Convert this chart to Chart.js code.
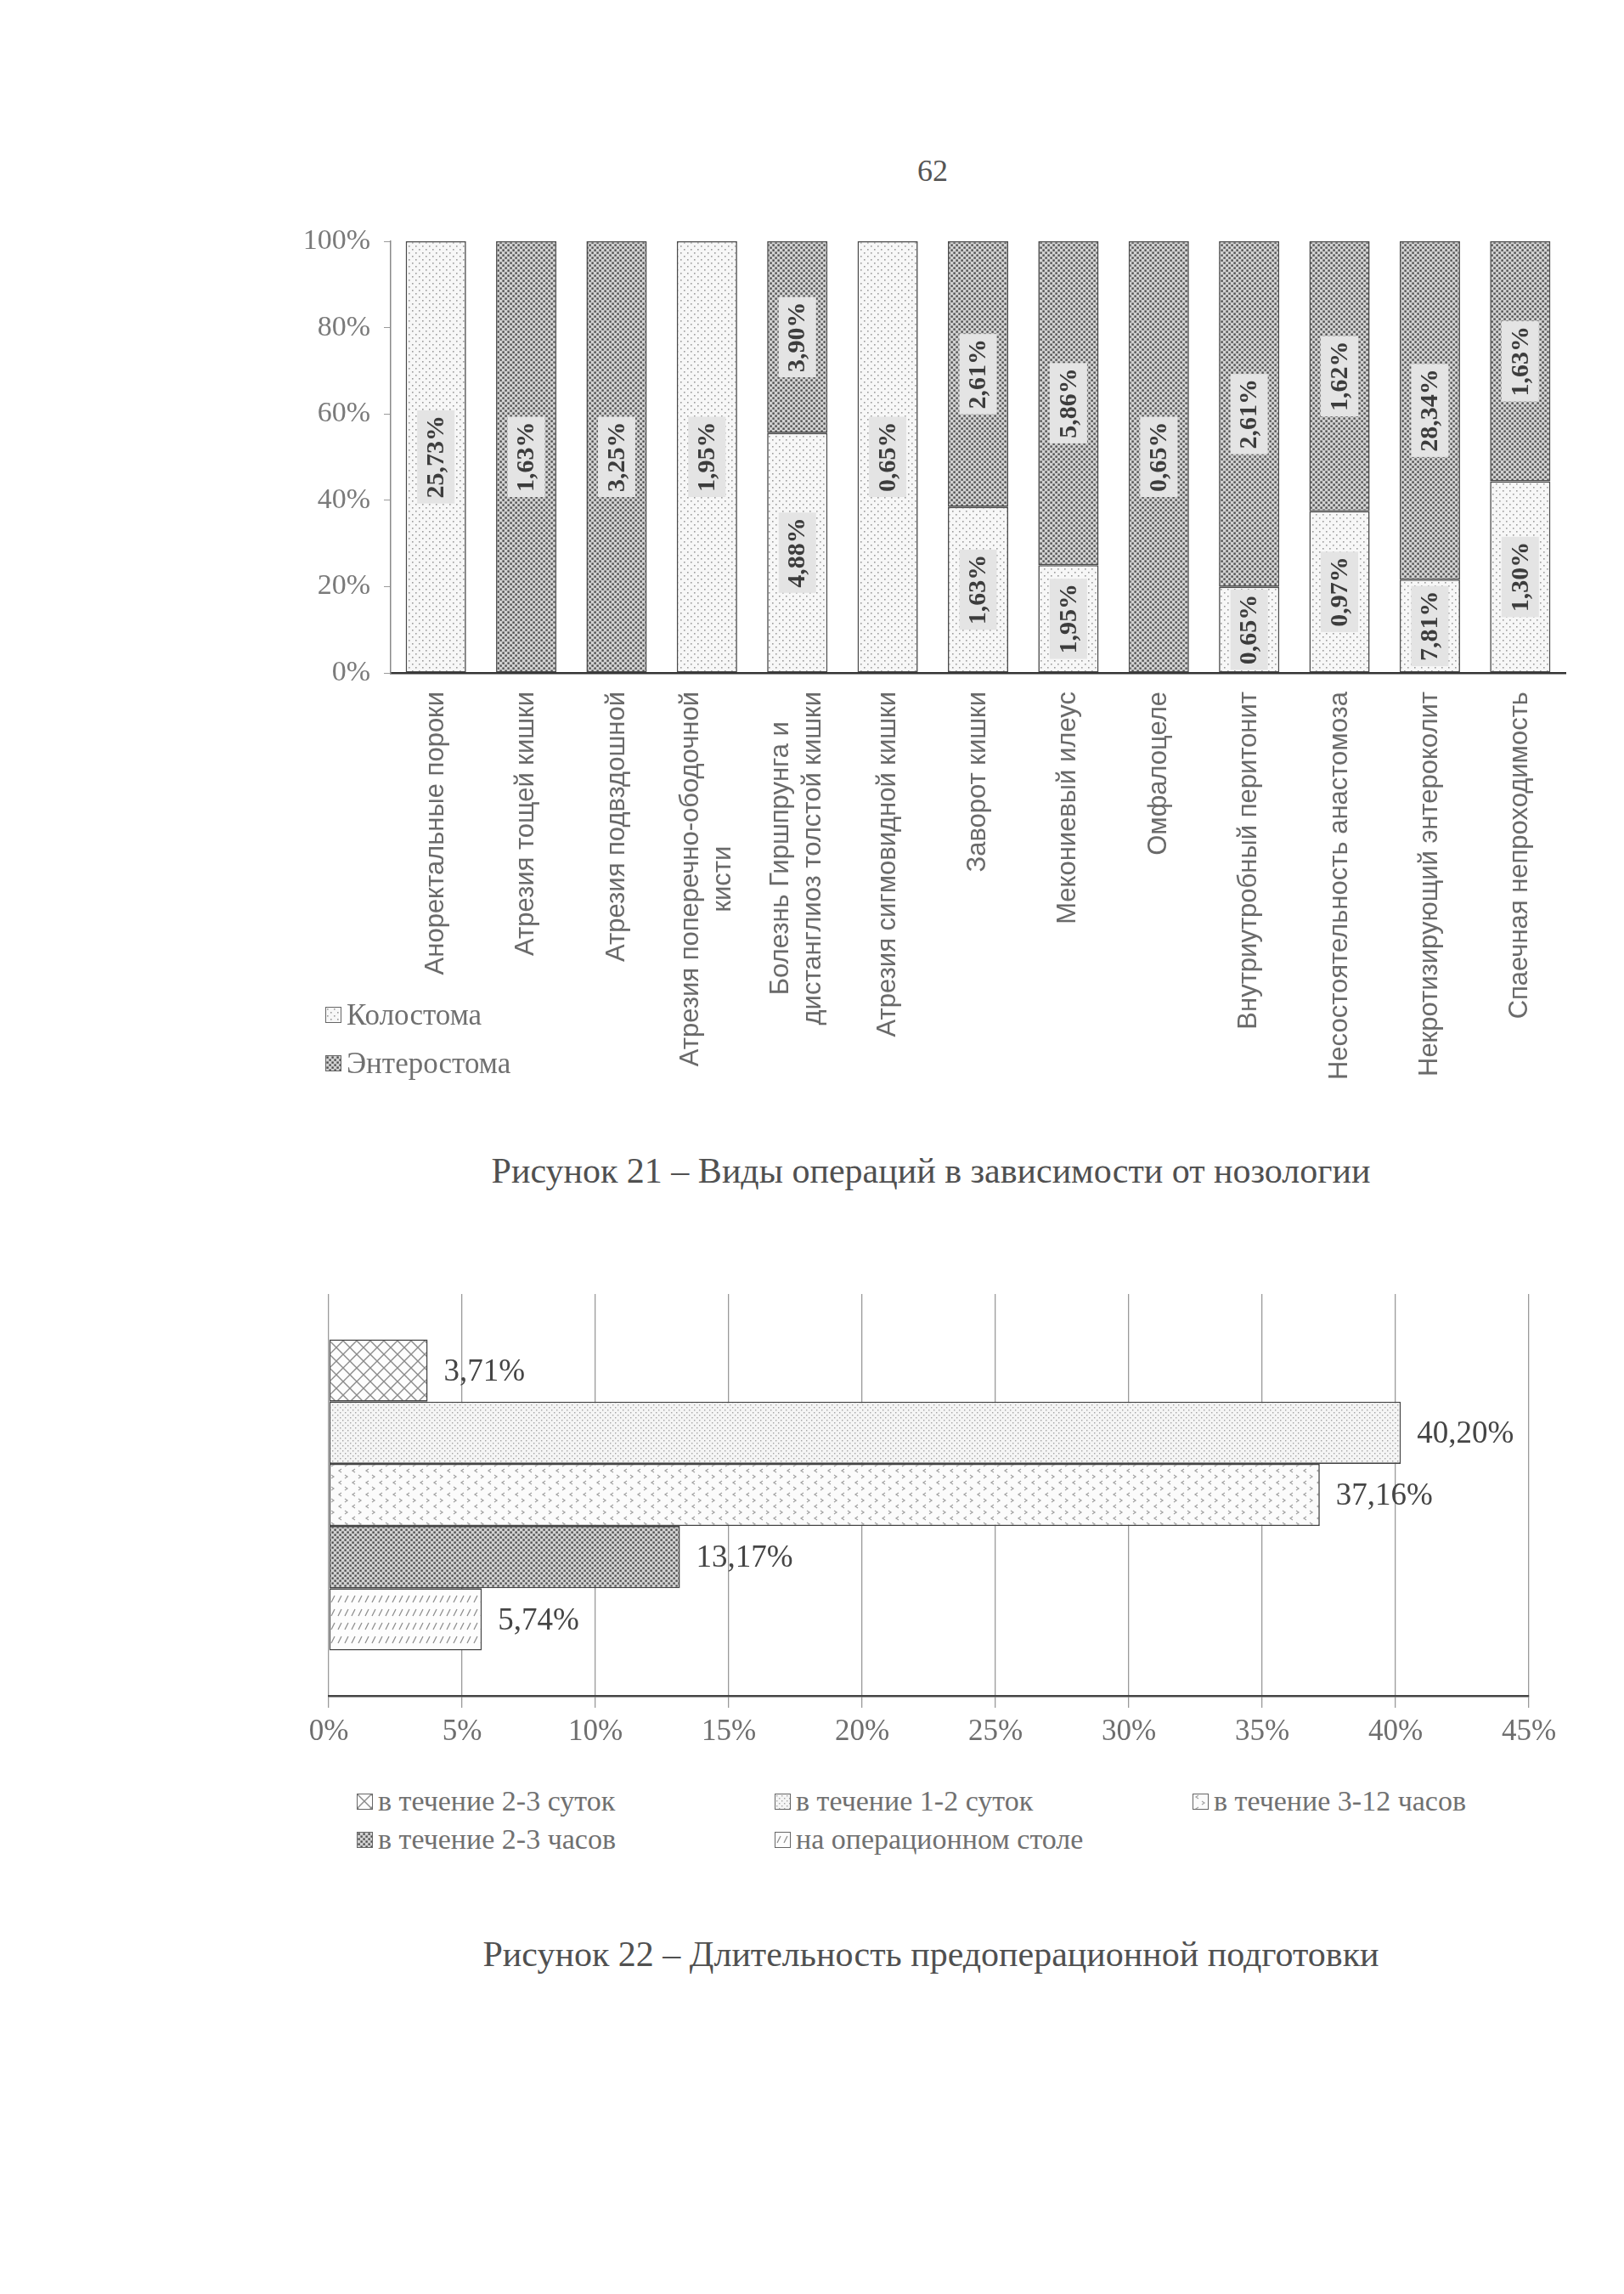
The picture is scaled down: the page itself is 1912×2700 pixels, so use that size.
<!DOCTYPE html>
<html>
<head>
<meta charset="utf-8">
<script src="https://cdn.jsdelivr.net/npm/chart.js@4.4.0/dist/chart.umd.min.js"></script>
<style>
body{margin:0;background:#fff;}
#page{position:relative;width:1912px;height:2700px;background:#fff;font-family:"Liberation Serif","Times New Roman",serif;color:#555;overflow:hidden;}
.abs{position:absolute;}
canvas{position:absolute;}
.caption{position:absolute;left:396px;width:1400px;text-align:center;font-size:42px;line-height:50px;color:#505050;}
.leg{position:absolute;display:flex;align-items:center;white-space:nowrap;color:#707070;}
.leg i{display:inline-block;width:17px;height:17px;border:1.5px solid #666;margin-right:6px;background-size:auto;}
</style>
</head>
<body>
<div id="page">
  <div class="abs" style="left:1068px;top:180px;width:60px;text-align:center;font-size:36px;line-height:42px;color:#555;">62</div>
  <canvas id="stomaChart" width="1580" height="1080" style="left:300px;top:260px;width:1580px;height:1080px;"></canvas>
  <div id="stomaLegend"></div>
  <div class="caption" style="top:1353px;">Рисунок 21 – Виды операций в зависимости от нозологии</div>
  <canvas id="prepChart" width="1560" height="600" style="left:300px;top:1490px;width:1560px;height:600px;"></canvas>
  <div id="prepLegend"></div>
  <div class="caption" style="top:2275px;">Рисунок 22 – Длительность предоперационной подготовки</div>
</div>
<script>
// ======================= DATA: FIGURE 21 =======================
const nosologies=[
  'Аноректальные пороки',
  'Атрезия тощей кишки',
  'Атрезия подвздошной',
  ['Атрезия поперечно-ободочной','кисти'],
  ['Болезнь Гиршпрунга и','дистанглиоз толстой кишки'],
  'Атрезия сигмовидной кишки',
  'Заворот кишки',
  'Мекониевый илеус',
  'Омфалоцеле',
  'Внутриутробный перитонит',
  'Несостоятельность анастомоза',
  'Некротизирующий энтероколит',
  'Спаечная непроходимость'
];
const colostomy=[25.73,0,0,1.95,4.88,0.65,1.63,1.95,0,0.65,0.97,7.81,1.30];
const enterostomy=[0,1.63,3.25,0,3.90,0,2.61,5.86,0.65,2.61,1.62,28.34,1.63];
const stomaNames=['Колостома','Энтеростома'];

// ======================= DATA: FIGURE 22 =======================
const prepNames=['в течение 2-3 суток','в течение 1-2 суток','в течение 3-12 часов','в течение 2-3 часов','на операционном столе'];
const prepValues=[3.71,40.20,37.16,13.17,5.74];

// ======================= PATTERNS =======================
function tile(w,h,draw){
  const c=document.createElement('canvas');c.width=w;c.height=h;
  const g=c.getContext('2d');draw(g);return c;
}
const tiles={
  lightDots:tile(8,8,g=>{g.fillStyle='#f7f7f7';g.fillRect(0,0,8,8);g.fillStyle='#9c9c9c';g.fillRect(1,1,1.6,1.6);g.fillRect(5,5,1.6,1.6);}),
  fineDots:tile(6,6,g=>{g.fillStyle='#f5f5f5';g.fillRect(0,0,6,6);g.fillStyle='#a4a4a4';g.fillRect(1,1,1.4,1.4);g.fillRect(4,4,1.4,1.4);}),
  darkDots:tile(6,6,g=>{g.fillStyle='#d2d2d2';g.fillRect(0,0,6,6);g.fillStyle='#4e4e4e';g.fillRect(0.4,0.4,2.4,2.4);g.fillRect(3.4,3.4,2.4,2.4);}),
  cross:tile(16,16,g=>{g.fillStyle='#fdfdfd';g.fillRect(0,0,16,16);g.strokeStyle='#8a8a8a';g.lineWidth=1.4;g.beginPath();g.moveTo(0,0);g.lineTo(16,16);g.moveTo(16,0);g.lineTo(0,16);g.stroke();}),
  chevrons:tile(16,14,g=>{g.fillStyle='#fbfbfb';g.fillRect(0,0,16,14);g.strokeStyle='#a0a0a0';g.lineWidth=1.2;g.beginPath();g.moveTo(6,1);g.lineTo(3,3);g.lineTo(6,5);g.moveTo(10,8);g.lineTo(13,10);g.lineTo(10,12);g.stroke();}),
  stripes:tile(8,16,g=>{g.fillStyle='#fdfdfd';g.fillRect(0,0,8,16);g.strokeStyle='#8c8c8c';g.lineWidth=1.3;g.beginPath();g.moveTo(2,12);g.lineTo(6,4);g.stroke();})
};
function pat(name){return document.createElement('canvas').getContext('2d').createPattern(tiles[name],'repeat');}

const stomaTiles=['lightDots','darkDots'];
const prepTiles=['cross','fineDots','chevrons','darkDots','stripes'];

const fmt=v=>v.toFixed(2).replace('.',',')+'%';

Chart.defaults.font.family='"Liberation Serif","Times New Roman",serif';
Chart.defaults.devicePixelRatio=1;

// ======================= LEGENDS (HTML) =======================
function buildLegend(hostId,names,tileNames,pos,fontSize){
  const host=document.getElementById(hostId);
  names.forEach((n,i)=>{
    const d=document.createElement('div');
    d.className='leg';
    const p=pos(i);
    d.style.left=p[0]+'px';d.style.top=p[1]+'px';d.style.fontSize=fontSize+'px';d.style.lineHeight=(fontSize+6)+'px';
    const ic=document.createElement('i');
    ic.style.backgroundImage='url('+tiles[tileNames[i]].toDataURL()+')';
    d.appendChild(ic);
    d.appendChild(document.createTextNode(n));
    host.appendChild(d);
  });
}
buildLegend('stomaLegend',stomaNames,stomaTiles,i=>[383,1174+i*57],35);
buildLegend('prepLegend',prepNames,prepTiles,i=>[420+(i%3)*492,2100+Math.floor(i/3)*45],34);

// ======================= FIGURE 21 =======================
function share(arr,i){const t=colostomy[i]+enterostomy[i];return arr[i]?arr[i]/t*100:null;}

const stomaText={
  id:'stomaText',
  afterDatasetsDraw(chart){
    const ctx=chart.ctx;
    ctx.save();
    ctx.font='bold 30px "Liberation Serif"';
    ctx.textAlign='center';ctx.textBaseline='middle';
    chart.data.datasets.forEach((ds,di)=>{
      chart.getDatasetMeta(di).data.forEach((el,i)=>{
        const v=ds.raw[i];
        if(!v) return;
        const cy=(el.y+el.base)/2;
        const txt=fmt(v);
        const w=ctx.measureText(txt).width;
        ctx.save();
        ctx.translate(el.x,cy);ctx.rotate(-Math.PI/2);
        ctx.fillStyle='#e4e4e4';
        ctx.fillRect(-w/2-6,-22,w+12,44);
        ctx.fillStyle='#3c3c3c';
        ctx.fillText(txt,0,1);
        ctx.restore();
      });
    });
    ctx.restore();
  },
  afterDraw(chart){
    const ctx=chart.ctx, xs=chart.scales.x;
    ctx.save();
    ctx.font='31px "Liberation Sans"';
    ctx.fillStyle='#6a6a6a';
    ctx.textAlign='center';ctx.textBaseline='middle';
    const lh=38;
    chart.data.labels.forEach((lab,i)=>{
      const lines=Array.isArray(lab)?lab:[lab];
      const maxW=Math.max(...lines.map(l=>ctx.measureText(l).width));
      ctx.save();
      ctx.translate(xs.getPixelForTick(i),xs.top+22);
      ctx.rotate(-Math.PI/2);
      lines.forEach((l,j)=>ctx.fillText(l,-maxW/2,(j-(lines.length-1)/2)*lh));
      ctx.restore();
    });
    ctx.restore();
  }
};

new Chart(document.getElementById('stomaChart'),{
  type:'bar',
  data:{
    labels:nosologies,
    datasets:[
      {label:stomaNames[0],raw:colostomy,data:colostomy.map((_,i)=>share(colostomy,i)),backgroundColor:pat(stomaTiles[0])},
      {label:stomaNames[1],raw:enterostomy,data:enterostomy.map((_,i)=>share(enterostomy,i)),backgroundColor:pat(stomaTiles[1])}
    ].map(d=>Object.assign(d,{borderColor:'#4a4a4a',borderWidth:1.6,borderSkipped:false,barPercentage:0.668,categoryPercentage:1}))
  },
  options:{
    responsive:false,animation:false,
    layout:{padding:{top:24,right:37,bottom:0,left:0}},
    plugins:{legend:{display:false},tooltip:{enabled:false}},
    scales:{
      x:{stacked:true,grid:{display:false},ticks:{display:false},
         border:{color:'#333',width:2.5},
         afterFit:s=>{s.height=548;s.paddingLeft=0;s.paddingRight=0;}},
      y:{stacked:true,min:0,max:100,
         ticks:{stepSize:20,callback:v=>v+'%',color:'#7a7a7a',font:{size:34},padding:16},
         grid:{drawOnChartArea:false,drawTicks:true,tickLength:8,color:'#9a9a9a'},
         border:{color:'#8a8a8a',width:1.5},
         afterFit:s=>{s.width=160;s.paddingTop=0;s.paddingBottom=0;}}
    }
  },
  plugins:[stomaText]
});

// ======================= FIGURE 22 =======================
const prepText={
  id:'prepText',
  afterDatasetsDraw(chart){
    const ctx=chart.ctx;
    ctx.save();
    ctx.font='37px "Liberation Serif"';
    ctx.fillStyle='#454545';
    ctx.textAlign='left';ctx.textBaseline='middle';
    chart.data.datasets.forEach((ds,di)=>{
      const el=chart.getDatasetMeta(di).data[0];
      ctx.fillText(fmt(ds.data[0]),el.x+19,el.y+2);
    });
    ctx.restore();
  }
};

new Chart(document.getElementById('prepChart'),{
  type:'bar',
  data:{
    labels:[''],
    datasets:prepNames.map((n,i)=>({
      label:n,data:[prepValues[i]],backgroundColor:pat(prepTiles[i]),
      borderColor:'#444',borderWidth:1.6,borderSkipped:false,
      barPercentage:1,categoryPercentage:0.774
    }))
  },
  options:{
    indexAxis:'y',responsive:false,animation:false,
    layout:{padding:{top:33,right:60,bottom:0,left:0}},
    plugins:{legend:{display:false},tooltip:{enabled:false}},
    scales:{
      x:{min:0,max:45,
         ticks:{stepSize:5,callback:v=>v+'%',color:'#6e6e6e',font:{size:35},padding:8},
         grid:{color:'#9a9a9a',lineWidth:1.3,drawTicks:true,tickLength:14},
         border:{color:'#444',width:2.5},
         afterFit:s=>{s.height=94;s.paddingLeft=0;s.paddingRight=0;}},
      y:{ticks:{display:false},grid:{display:false},border:{display:false},
         afterFit:s=>{s.width=87;s.paddingTop=0;s.paddingBottom=0;}}
    }
  },
  plugins:[prepText]
});
</script>
</body>
</html>
